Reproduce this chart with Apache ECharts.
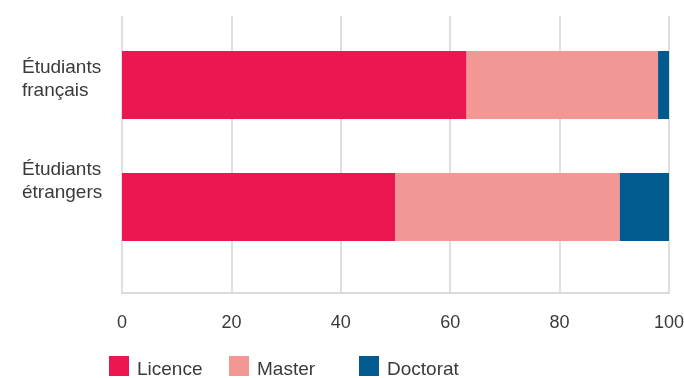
<!DOCTYPE html>
<html>
<head>
<meta charset="utf-8">
<style>
  html, body { margin: 0; padding: 0; background: #fff; }
  #chart { width: 684px; height: 378px; }
</style>
<script src="https://cdn.jsdelivr.net/npm/echarts@6/dist/echarts.min.js"></script>
</head>
<body>
<div id="chart"></div>
<script>
// données
var categories = ["Étudiants\nfrançais", "Étudiants\nétrangers"];
var licence = [63, 50];
var master = [35, 41];
var doctorat = [2, 9];
var xTicks = [0, 20, 40, 60, 80, 100];
var seriesNames = ["Licence", "Master", "Doctorat"];

var colors = ["#EC1651", "#F29794", "#025B8F"];
var font = "'Liberation Sans', Arial, sans-serif";
var textColor = "#3a3a3a";

var chart = echarts.init(document.getElementById("chart"));

function barSerie(name, data, color) {
  return {
    name: name,
    type: "bar",
    stack: "total",
    barWidth: 68,
    xAxisIndex: 0,
    yAxisIndex: 0,
    itemStyle: { color: color },
    data: data
  };
}

// une légende par série, placée à la main
function legendItem(name, left) {
  return {
    left: left,
    top: 356,
    padding: 0,
    itemWidth: 20,
    itemHeight: 20,
    itemGap: 0,
    icon: "rect",
    formatter: function (n) {
      return "{a|" + n + "}";
    },
    textStyle: {
      color: textColor,
      fontSize: 19,
      fontFamily: font,
      rich: {
        a: { color: textColor, fontSize: 19, fontFamily: font, padding: [8, 0, 0, 3] }
      }
    },
    data: [name]
  };
}

var option = {
  animation: false,
  textStyle: { fontFamily: font },
  legend: [
    legendItem(seriesNames[0], 109),
    legendItem(seriesNames[1], 229),
    legendItem(seriesNames[2], 359)
  ],
  grid: [
    // grille des barres
    { left: 122, right: 15, top: 24, height: 244, outerBoundsMode: "none", containLabel: false },
    // grille du quadrillage
    { left: 122, right: 15, top: 16, height: 277, outerBoundsMode: "none", containLabel: false }
  ],
  xAxis: [
    {
      gridIndex: 0,
      type: "value",
      min: 0,
      max: 100,
      show: false
    },
    {
      gridIndex: 1,
      type: "value",
      min: xTicks[0],
      max: xTicks[xTicks.length - 1],
      interval: 20,
      axisLine: { show: true, lineStyle: { color: "#cfcfcf", width: 1.5 } },
      axisTick: { show: false },
      axisLabel: { color: textColor, fontSize: 18, margin: 21, fontFamily: font },
      splitLine: { show: true, lineStyle: { color: "#d6d6d6", width: 1.5 } }
    }
  ],
  yAxis: [
    {
      gridIndex: 0,
      type: "category",
      inverse: true,
      data: categories,
      axisLine: { show: false },
      axisTick: { show: false },
      axisLabel: {
        align: "left",
        margin: 100,
        fontFamily: font,
        // une ligne vide en dessous remonte chaque libellé
        formatter: function (v, i) {
          var lines = v.split("\n").map(function (l) {
            return "{t|" + l + "}";
          });
          return lines.join("\n") + "\n{" + (i === 0 ? "s0" : "s1") + "| }";
        },
        rich: {
          t: { fontSize: 19, lineHeight: 23, color: textColor, fontFamily: font, align: "left" },
          s0: { fontSize: 1, lineHeight: 12 },
          s1: { fontSize: 1, lineHeight: 52 }
        }
      }
    },
    {
      gridIndex: 1,
      type: "value",
      min: 0,
      max: 1,
      show: false
    }
  ],
  series: [
    barSerie(seriesNames[0], licence, colors[0]),
    barSerie(seriesNames[1], master, colors[1]),
    barSerie(seriesNames[2], doctorat, colors[2])
  ]
};

chart.setOption(option);
</script>
</body>
</html>
